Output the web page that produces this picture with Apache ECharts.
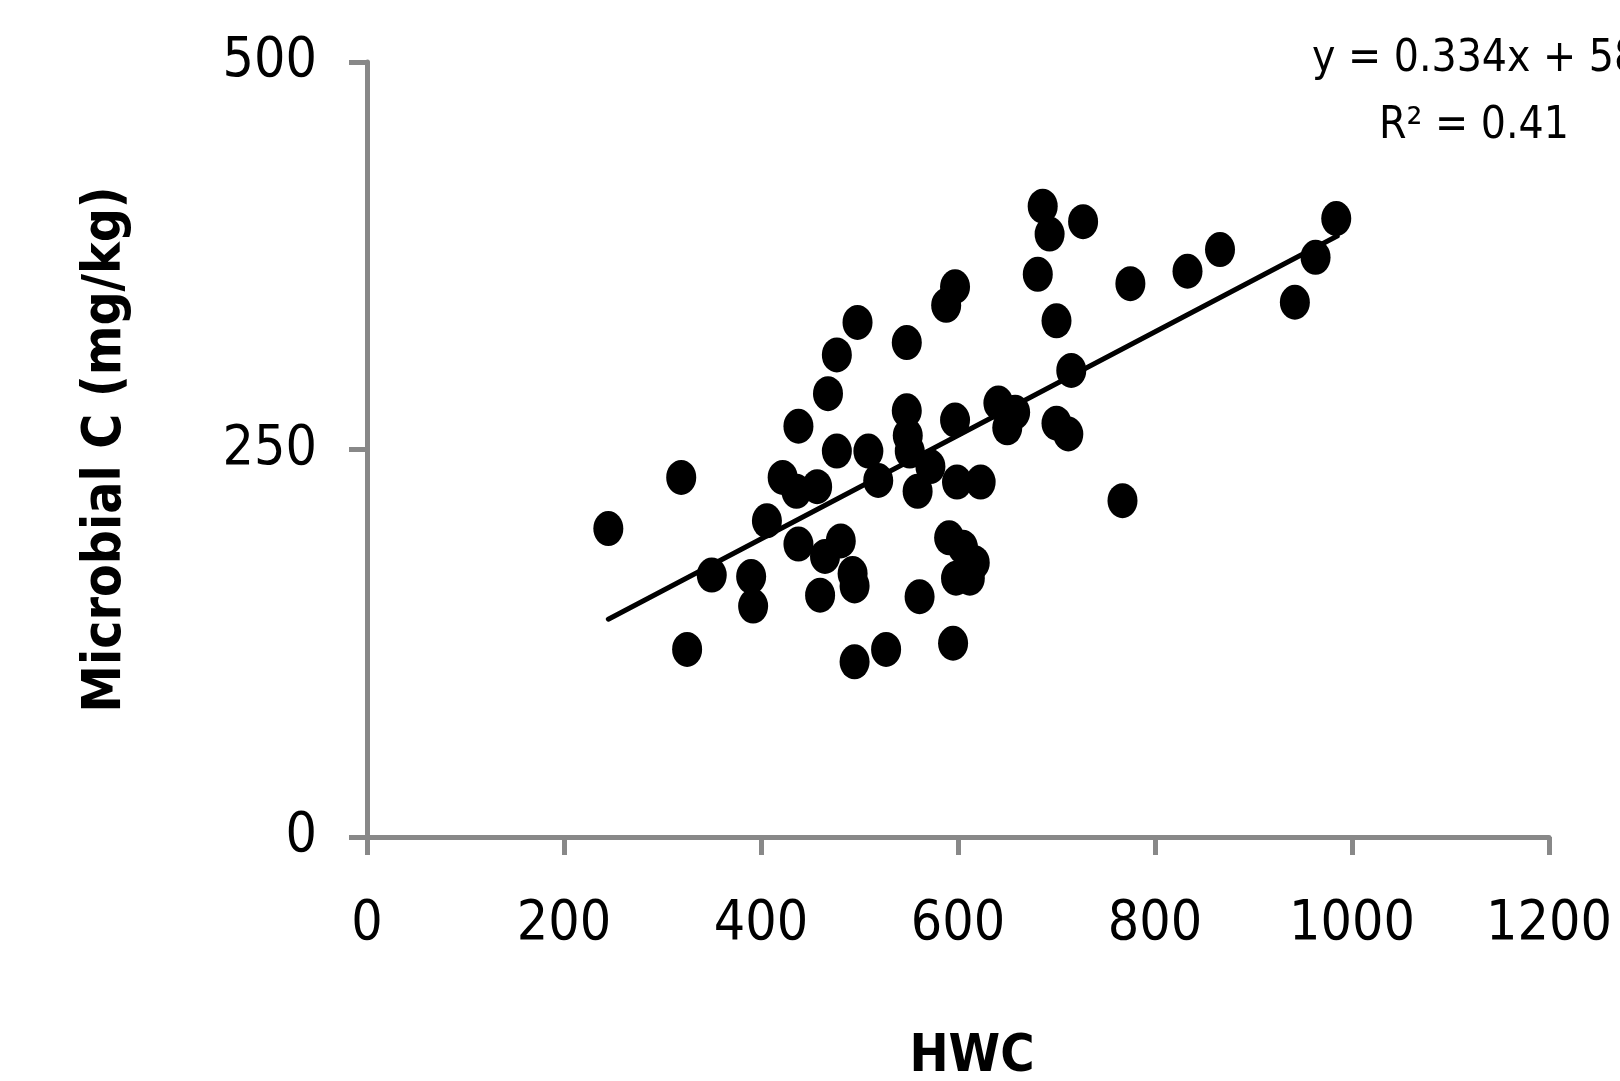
<!DOCTYPE html>
<html lang="en">

<head>
    <meta charset="UTF-8">
    <title>Microbial C vs HWC</title>
    <script type="text/javascript" src="https://cdn.jsdelivr.net/npm/echarts@6/dist/echarts.min.js"></script>
    <style>
        html, body {
            margin: 0;
            padding: 0;
            background-color: #ffffff;
            overflow: hidden;
        }
    </style>
</head>

<body>
    <div style="width: 1620px; height: 1081px" id="container"></div>
</body>
<script>
    var dom = document.getElementById("container");
    var myChart = echarts.init(dom);

    let fontFamily = "'DejaVu Sans Condensed', 'Liberation Sans', sans-serif";
    let axisColor = '#888888';

    // HWC (x) and Microbial C (y)
    let hwc = [
        245, 319, 325, 350, 390, 392, 406, 422, 436, 438, 438, 457, 460, 465, 468, 477,
        477, 481, 493, 495, 495, 498, 509, 519, 527, 548, 548, 549, 551, 559, 561, 572,
        588, 597, 597, 599, 591, 595, 605, 598, 612, 617, 623, 641, 650, 658, 681, 686,
        693, 700, 700, 712, 715, 727, 767, 775, 833, 866, 942, 963, 984
    ];
    let microbialC = [
        199, 232, 121, 169, 168, 149, 204, 232, 223, 265, 189, 226, 156, 181, 286, 311,
        249, 191, 170, 162, 113, 332, 249, 230, 121, 319, 275, 259, 249, 223, 155, 239,
        343, 355, 269, 229, 193, 125, 187, 167, 167, 177, 229, 280, 264, 274, 363, 407,
        389, 333, 267, 260, 301, 397, 217, 357, 365, 379, 345, 374, 399
    ];

    // trend line from the printed equation
    let slope = 0.334;
    let intercept = 58.7;
    let trendX = [245, 985];
    let equationText = 'y = 0.334x + 58.7';
    let r2Text = 'R² = 0.41';

    let points = hwc.map((x, i) => [x, microbialC[i]]);
    let trend = trendX.map(x => [x, slope * x + intercept]);

    var option = {
        backgroundColor: '#ffffff',
        animation: false,
        grid: {
            left: 367,
            right: 71,
            top: 62,
            bottom: 244,
            containLabel: false,
            outerBoundsMode: 'none'
        },
        xAxis: {
            type: 'value',
            min: 0,
            max: 1200,
            interval: 200,
            name: 'HWC',
            nameLocation: 'middle',
            nameGap: 194,
            nameTextStyle: {
                fontFamily: fontFamily,
                fontSize: 52,
                fontWeight: 'bold',
                color: '#000000',
                verticalAlign: 'top',
                padding: [0, 0, 0, 28]
            },
            axisLine: { lineStyle: { color: axisColor, width: 5 } },
            axisTick: { length: 18, lineStyle: { color: axisColor, width: 5 } },
            splitLine: { show: false },
            axisLabel: {
                margin: 60,
                fontFamily: fontFamily,
                fontSize: 55,
                color: '#000000',
                formatter: v => String(v)
            }
        },
        yAxis: {
            type: 'value',
            min: 0,
            max: 500,
            interval: 250,
            name: 'Microbial C (mg/kg)',
            nameLocation: 'middle',
            nameGap: 234,
            nameTextStyle: {
                fontFamily: fontFamily,
                fontSize: 53,
                fontWeight: 'bold',
                color: '#000000'
            },
            axisLine: { show: true, lineStyle: { color: axisColor, width: 5 } },
            axisTick: { show: true, length: 18, lineStyle: { color: axisColor, width: 5 } },
            splitLine: { show: false },
            axisLabel: {
                margin: 50,
                fontFamily: fontFamily,
                fontSize: 55,
                color: '#000000',
                formatter: v => String(v)
            }
        },
        graphic: [{
            type: 'text',
            x: 1312,
            y: 60,
            style: {
                text: equationText,
                fontFamily: fontFamily,
                fontSize: 44,
                fill: '#000000',
                align: 'left',
                verticalAlign: 'middle'
            }
        }, {
            type: 'text',
            x: 1474,
            y: 127,
            style: {
                text: r2Text,
                fontFamily: fontFamily,
                fontSize: 44,
                fill: '#000000',
                align: 'center',
                verticalAlign: 'middle'
            }
        }],
        series: [{
            type: 'scatter',
            data: points,
            symbol: 'path://M0,-1A1,1,0,1,1,0,1A1,1,0,1,1,0,-1Z',
            symbolSize: [30, 35],
            itemStyle: { color: '#000000', opacity: 1 },
            z: 3
        }, {
            type: 'line',
            data: trend,
            symbol: 'none',
            lineStyle: { color: '#000000', width: 5, cap: 'round' },
            z: 2
        }]
    };
    if (option && typeof option === 'object') {
        myChart.setOption(option);
    }
</script>

</html>
